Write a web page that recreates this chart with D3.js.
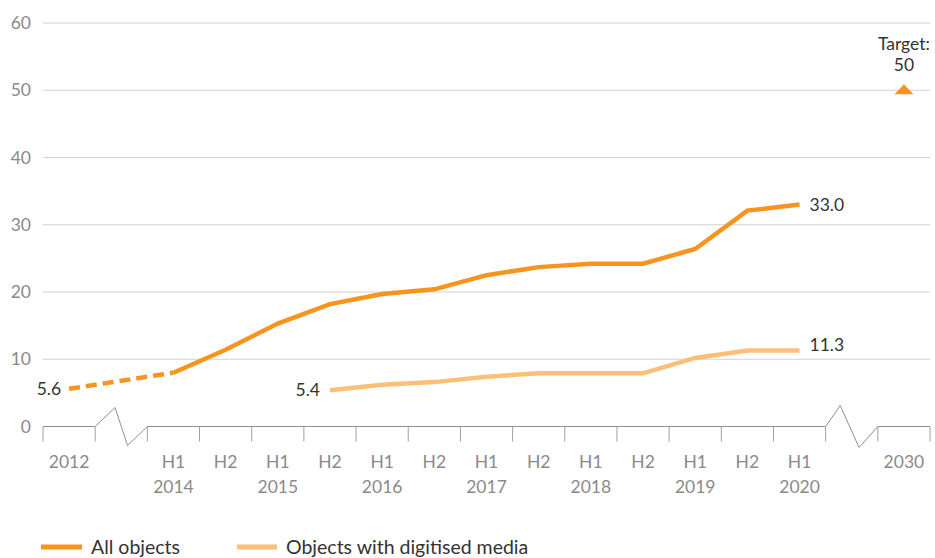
<!DOCTYPE html>
<html>
<head>
<meta charset="utf-8">
<script src="https://cdn.jsdelivr.net/npm/d3@7"></script>
<style>
  body { margin: 0; background: #fff; }
  text { font-family: Lato, "Open Sans", sans-serif; }
</style>
</head>
<body>
<div id="chart"></div>
<script>
// categories on the x axis ("gap" slots hold the axis breaks)
const periods = ["2012", "gap1", "H1 2014", "H2 2014", "H1 2015", "H2 2015", "H1 2016", "H2 2016",
  "H1 2017", "H2 2017", "H1 2018", "H2 2018", "H1 2019", "H2 2019", "H1 2020", "gap2", "2030"];
const tickLabels = [["2012"], [], ["H1", "2014"], ["H2"], ["H1", "2015"], ["H2"], ["H1", "2016"], ["H2"],
  ["H1", "2017"], ["H2"], ["H1", "2018"], ["H2"], ["H1", "2019"], ["H2"], ["H1", "2020"], [], ["2030"]];

const allPeriods = ["2012", "H1 2014", "H2 2014", "H1 2015", "H2 2015", "H1 2016", "H2 2016",
  "H1 2017", "H2 2017", "H1 2018", "H2 2018", "H1 2019", "H2 2019", "H1 2020"];
const allValues = [5.6, 8.0, 11.4, 15.3, 18.2, 19.7, 20.4, 22.5, 23.7, 24.2, 24.2, 26.4, 32.1, 33.0];

const digiPeriods = ["H2 2015", "H1 2016", "H2 2016", "H1 2017", "H2 2017", "H1 2018", "H2 2018",
  "H1 2019", "H2 2019", "H1 2020"];
const digiValues = [5.4, 6.2, 6.6, 7.4, 7.9, 7.9, 7.9, 10.2, 11.3, 11.3];

const targetPeriod = "2030", targetValue = 50;
const yTicks = [0, 10, 20, 30, 40, 50, 60];

const width = 935, height = 558;
const colAll = "#f7941d", colDigi = "#fcbf78";
const gray = "#8a8a8a";

const svg = d3.select("#chart").append("svg")
  .attr("width", width).attr("height", height);

const x = d3.scaleBand().domain(periods).range([43, 930]).padding(0);
const y = d3.scaleLinear().domain([0, 60]).range([426.5, 23]);
const cx = d => x(d) + x.bandwidth() / 2;

// gridlines
svg.append("g").selectAll("line")
  .data(yTicks.filter(d => d > 0))
  .join("line")
  .attr("x1", 43).attr("x2", 930)
  .attr("y1", d => y(d)).attr("y2", d => y(d))
  .attr("stroke", "#d2d2d2").attr("stroke-width", 1);

// y labels
svg.append("g").selectAll("text")
  .data(yTicks)
  .join("text")
  .attr("x", 31).attr("y", d => y(d))
  .attr("dy", "0.35em")
  .attr("text-anchor", "end")
  .attr("fill", gray).style("font-size", "17.5px")
  .text(d => d);

// x axis line with breaks
const y0 = y(0);
const gap1 = x("gap1"), gap2 = x("gap2"), bw = x.bandwidth();
const axisPts = [
  [x("2012"), y0], [gap1, y0], [gap1 + 0.38 * bw, y0 - 19], [gap1 + 0.62 * bw, y0 + 19], [gap1 + bw, y0],
  [gap2, y0], [gap2 + 0.28 * bw, y0 - 21], [gap2 + 0.64 * bw, y0 + 21], [gap2 + bw, y0], [930, y0]
];
svg.append("path")
  .attr("d", d3.line()(axisPts))
  .attr("fill", "none").attr("stroke", "#8f8f8f").attr("stroke-width", 1);

// tick marks at slot boundaries
const bounds = [];
periods.forEach(p => bounds.push(x(p)));
bounds.push(930);
svg.append("g").selectAll("line")
  .data(bounds)
  .join("line")
  .attr("x1", d => d).attr("x2", d => d)
  .attr("y1", y0).attr("y2", y0 + 15)
  .attr("stroke", "#a0a0a0").attr("stroke-width", 1);

// x labels
const xl = svg.append("g").selectAll("text")
  .data(periods)
  .join("text")
  .attr("x", d => cx(d)).attr("y", 468)
  .attr("text-anchor", "middle")
  .attr("fill", gray).style("font-size", "17.5px");
xl.each(function (d, i) {
  d3.select(this).selectAll("tspan")
    .data(tickLabels[i])
    .join("tspan")
    .attr("x", cx(d))
    .attr("dy", (t, j) => j === 0 ? 0 : 25)
    .text(t => t);
});

// all objects line: dashed 2012 -> H1 2014, solid afterwards
const line = d3.line().x(d => cx(d[0])).y(d => y(d[1]));
const allData = allPeriods.map((p, i) => [p, allValues[i]]);
svg.append("path")
  .attr("d", line(allData.slice(0, 2)))
  .attr("fill", "none").attr("stroke", colAll).attr("stroke-width", 4.5)
  .attr("stroke-dasharray", "11,6");
svg.append("path")
  .attr("d", line(allData.slice(1)))
  .attr("fill", "none").attr("stroke", colAll).attr("stroke-width", 4.5)
  .attr("stroke-linejoin", "miter");

const digiData = digiPeriods.map((p, i) => [p, digiValues[i]]);
svg.append("path")
  .attr("d", line(digiData))
  .attr("fill", "none").attr("stroke", colDigi).attr("stroke-width", 4.5);

// value labels
const lab = (tx, ty, anchor, t) => svg.append("text")
  .attr("x", tx).attr("y", ty).attr("dy", "0.35em")
  .attr("text-anchor", anchor).attr("fill", "#333")
  .style("font-size", "17.5px").text(t);
lab(cx(allPeriods[0]) - 8, y(allValues[0]), "end", allValues[0].toFixed(1));
lab(cx(digiPeriods[0]) - 10, y(digiValues[0]), "end", digiValues[0].toFixed(1));
lab(cx("H1 2020") + 10, y(allValues[allValues.length - 1]), "start", allValues[allValues.length - 1].toFixed(1));
lab(cx("H1 2020") + 10, y(digiValues[digiValues.length - 1]) - 6, "start", digiValues[digiValues.length - 1].toFixed(1));

// target marker (flat triangle)
const tx = cx(targetPeriod), ty = y(targetValue);
svg.append("path")
  .attr("d", "M-9.5,4L0,-6L9.5,4Z")
  .attr("transform", `translate(${tx},${ty})`)
  .attr("fill", colAll);
lab(tx, 44, "middle", "Target:");
lab(tx, 65, "middle", targetValue);

// legend
const legend = svg.append("g");
[["All objects", colAll, 41, 41], ["Objects with digitised media", colDigi, 237, 40]].forEach(([t, c, lx, lw]) => {
  legend.append("line")
    .attr("x1", lx).attr("x2", lx + lw)
    .attr("y1", 547).attr("y2", 547)
    .attr("stroke", c).attr("stroke-width", 5);
  legend.append("text")
    .attr("x", lx + lw + 9).attr("y", 547).attr("dy", "0.35em")
    .attr("fill", "#333").style("font-size", "19.5px")
    .text(t);
});
</script>
</body>
</html>
